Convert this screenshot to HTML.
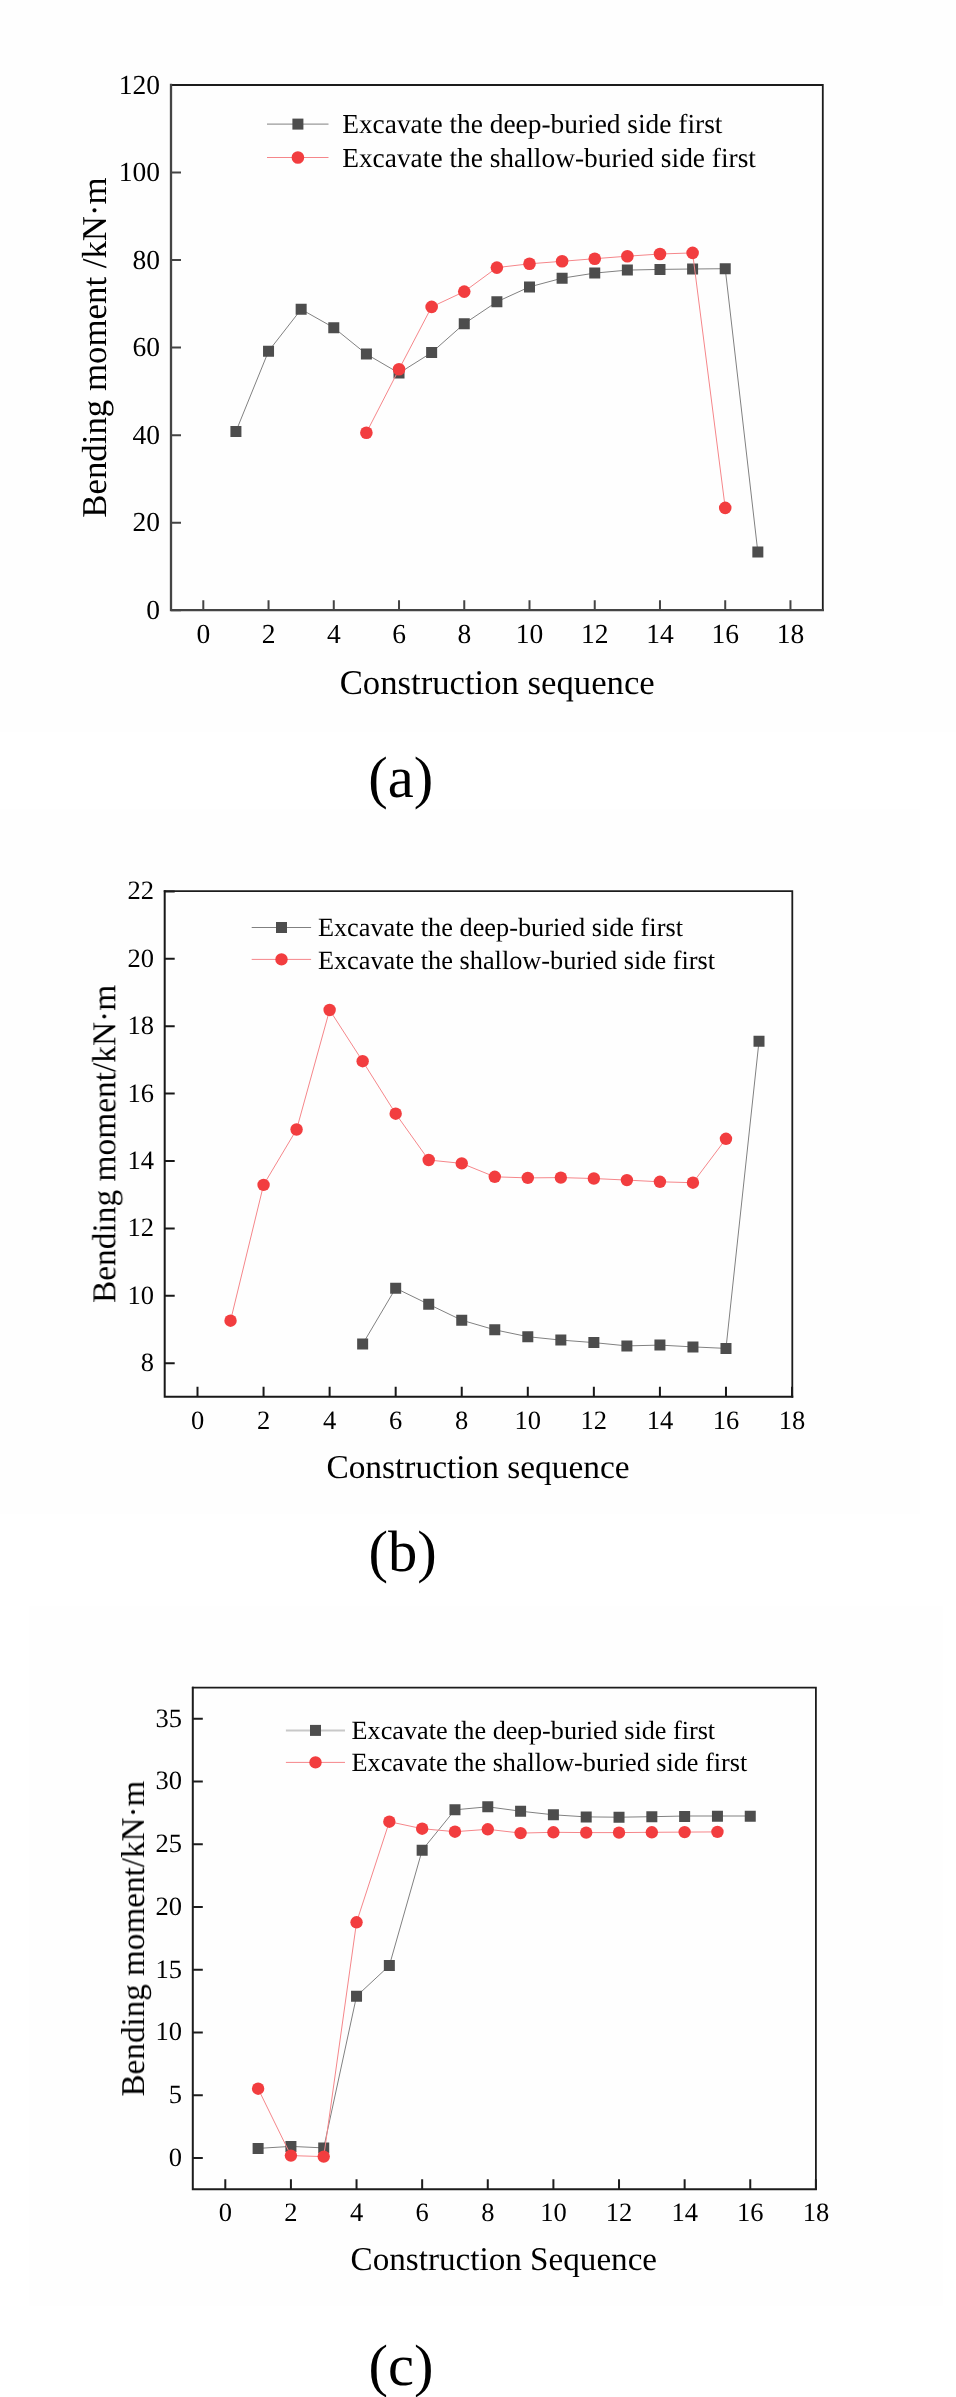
<!DOCTYPE html>
<html><head><meta charset="utf-8"><title>Bending moment charts</title>
<style>
html,body{margin:0;padding:0;background:#fff;}
body{width:956px;height:2397px;overflow:hidden;}
svg{display:block;font-family:"Liberation Serif", serif;will-change:transform;}
text{fill:#000;}
svg{text-rendering:geometricPrecision;-webkit-font-smoothing:antialiased;}
</style></head><body>
<svg width="956" height="2397" viewBox="0 0 956 2397">
<rect x="0" y="0" width="956" height="732" fill="#fefefe"/>
<rect x="0" y="809" width="920" height="705" fill="#fefefe"/>
<rect x="29" y="1606" width="914" height="700" fill="#fefefe"/>
<path d="M203.3 610.2V600.2M268.54 610.2V600.2M333.78 610.2V600.2M399.02 610.2V600.2M464.26 610.2V600.2M529.5 610.2V600.2M594.74 610.2V600.2M659.98 610.2V600.2M725.22 610.2V600.2M790.46 610.2V600.2M171 610.2H181M171 522.67H181M171 435.14H181M171 347.61H181M171 260.08H181M171 172.55H181M171 85.02H181" stroke="#444444" stroke-width="2" fill="none"/>
<path d="M171 85H822.8V610.2" fill="none" stroke="#1c1c1c" stroke-width="1.8" stroke-linecap="square"/>
<path d="M171 85V610.2H822.8" fill="none" stroke="#444444" stroke-width="2.3" stroke-linecap="square"/>
<text x="203.3" y="642.8" font-size="27.5" text-anchor="middle">0</text>
<text x="268.54" y="642.8" font-size="27.5" text-anchor="middle">2</text>
<text x="333.78" y="642.8" font-size="27.5" text-anchor="middle">4</text>
<text x="399.02" y="642.8" font-size="27.5" text-anchor="middle">6</text>
<text x="464.26" y="642.8" font-size="27.5" text-anchor="middle">8</text>
<text x="529.5" y="642.8" font-size="27.5" text-anchor="middle">10</text>
<text x="594.74" y="642.8" font-size="27.5" text-anchor="middle">12</text>
<text x="659.98" y="642.8" font-size="27.5" text-anchor="middle">14</text>
<text x="725.22" y="642.8" font-size="27.5" text-anchor="middle">16</text>
<text x="790.46" y="642.8" font-size="27.5" text-anchor="middle">18</text>
<text x="160.1" y="619" font-size="27.5" text-anchor="end">0</text>
<text x="160.1" y="531.47" font-size="27.5" text-anchor="end">20</text>
<text x="160.1" y="443.94" font-size="27.5" text-anchor="end">40</text>
<text x="160.1" y="356.41" font-size="27.5" text-anchor="end">60</text>
<text x="160.1" y="268.88" font-size="27.5" text-anchor="end">80</text>
<text x="160.1" y="181.35" font-size="27.5" text-anchor="end">100</text>
<text x="160.1" y="93.82" font-size="27.5" text-anchor="end">120</text>
<text x="339.7" y="694.2" font-size="34.7">Construction sequence</text>
<text transform="translate(106 517.8) rotate(-90)" font-size="34.85">Bending moment /kN·m</text>
<polyline points="235.92,431.5 268.54,351.2 301.16,309.3 333.78,327.7 366.4,354.1 399.02,373.1 431.64,352.6 464.26,323.7 496.88,301.8 529.5,286.9 562.12,278.2 594.74,273.1 627.36,270.1 659.98,269.4 692.6,269 725.22,268.7 757.84,552" fill="none" stroke="#808080" stroke-width="1"/>
<path d="M230.42 426h11v11h-11zM263.04 345.7h11v11h-11zM295.66 303.8h11v11h-11zM328.28 322.2h11v11h-11zM360.9 348.6h11v11h-11zM393.52 367.6h11v11h-11zM426.14 347.1h11v11h-11zM458.76 318.2h11v11h-11zM491.38 296.3h11v11h-11zM524 281.4h11v11h-11zM556.62 272.7h11v11h-11zM589.24 267.6h11v11h-11zM621.86 264.6h11v11h-11zM654.48 263.9h11v11h-11zM687.1 263.5h11v11h-11zM719.72 263.2h11v11h-11zM752.34 546.5h11v11h-11z" fill="#4d4d4d"/>
<polyline points="366.4,432.7 399.02,369.3 431.64,306.9 464.26,291.6 496.88,267.6 529.5,263.8 562.12,261.3 594.74,258.7 627.36,256.2 659.98,254 692.6,252.9 725.22,507.9" fill="none" stroke="#f5868a" stroke-width="1"/>
<g fill="#f23d3f"><circle cx="366.4" cy="432.7" r="6.3"/><circle cx="399.02" cy="369.3" r="6.3"/><circle cx="431.64" cy="306.9" r="6.3"/><circle cx="464.26" cy="291.6" r="6.3"/><circle cx="496.88" cy="267.6" r="6.3"/><circle cx="529.5" cy="263.8" r="6.3"/><circle cx="562.12" cy="261.3" r="6.3"/><circle cx="594.74" cy="258.7" r="6.3"/><circle cx="627.36" cy="256.2" r="6.3"/><circle cx="659.98" cy="254" r="6.3"/><circle cx="692.6" cy="252.9" r="6.3"/><circle cx="725.22" cy="507.9" r="6.3"/></g>
<path d="M267 124.1H328.5" stroke="#808080" stroke-width="1"/>
<rect x="292.4" y="118.6" width="11" height="11" fill="#4d4d4d"/>
<path d="M267 157.5H328.5" stroke="#f5868a" stroke-width="1"/>
<circle cx="297.9" cy="157.5" r="6.3" fill="#f23d3f"/>
<text x="342.2" y="133" font-size="27.4">Excavate the deep-buried side first</text>
<text x="342.2" y="167.3" font-size="27.4">Excavate the shallow-buried side first</text>
<text x="368.3" y="797.4" font-size="58.5">(a)</text>
<path d="M197.5 1396.8V1386.8M263.56 1396.8V1386.8M329.62 1396.8V1386.8M395.68 1396.8V1386.8M461.74 1396.8V1386.8M527.8 1396.8V1386.8M593.86 1396.8V1386.8M659.92 1396.8V1386.8M725.98 1396.8V1386.8M792.04 1396.8V1386.8M164.7 1363.2H174.7M164.7 1295.8H174.7M164.7 1228.4H174.7M164.7 1161H174.7M164.7 1093.6H174.7M164.7 1026.2H174.7M164.7 958.8H174.7M164.7 891.4H174.7" stroke="#181818" stroke-width="2" fill="none"/>
<path d="M164.7 891.2H792.3V1396.8" fill="none" stroke="#1c1c1c" stroke-width="1.8" stroke-linecap="square"/>
<path d="M164.7 891.2V1396.8H792.3" fill="none" stroke="#181818" stroke-width="2" stroke-linecap="square"/>
<text x="197.5" y="1428.7" font-size="26.5" text-anchor="middle">0</text>
<text x="263.56" y="1428.7" font-size="26.5" text-anchor="middle">2</text>
<text x="329.62" y="1428.7" font-size="26.5" text-anchor="middle">4</text>
<text x="395.68" y="1428.7" font-size="26.5" text-anchor="middle">6</text>
<text x="461.74" y="1428.7" font-size="26.5" text-anchor="middle">8</text>
<text x="527.8" y="1428.7" font-size="26.5" text-anchor="middle">10</text>
<text x="593.86" y="1428.7" font-size="26.5" text-anchor="middle">12</text>
<text x="659.92" y="1428.7" font-size="26.5" text-anchor="middle">14</text>
<text x="725.98" y="1428.7" font-size="26.5" text-anchor="middle">16</text>
<text x="792.04" y="1428.7" font-size="26.5" text-anchor="middle">18</text>
<text x="153.9" y="1371.1" font-size="26.5" text-anchor="end">8</text>
<text x="153.9" y="1303.7" font-size="26.5" text-anchor="end">10</text>
<text x="153.9" y="1236.3" font-size="26.5" text-anchor="end">12</text>
<text x="153.9" y="1168.9" font-size="26.5" text-anchor="end">14</text>
<text x="153.9" y="1101.5" font-size="26.5" text-anchor="end">16</text>
<text x="153.9" y="1034.1" font-size="26.5" text-anchor="end">18</text>
<text x="153.9" y="966.7" font-size="26.5" text-anchor="end">20</text>
<text x="153.9" y="899.3" font-size="26.5" text-anchor="end">22</text>
<text x="326.4" y="1478" font-size="33.4">Construction sequence</text>
<text transform="translate(115.3 1303) rotate(-90)" font-size="33.4">Bending moment/kN·m</text>
<polyline points="362.65,1344.1 395.68,1288.2 428.71,1304.3 461.74,1320.2 494.77,1329.8 527.8,1336.7 560.83,1340.1 593.86,1342.6 626.89,1345.9 659.92,1345.1 692.95,1346.9 725.98,1348.4 759.01,1041.3" fill="none" stroke="#808080" stroke-width="1"/>
<path d="M357.15 1338.6h11v11h-11zM390.18 1282.7h11v11h-11zM423.21 1298.8h11v11h-11zM456.24 1314.7h11v11h-11zM489.27 1324.3h11v11h-11zM522.3 1331.2h11v11h-11zM555.33 1334.6h11v11h-11zM588.36 1337.1h11v11h-11zM621.39 1340.4h11v11h-11zM654.42 1339.6h11v11h-11zM687.45 1341.4h11v11h-11zM720.48 1342.9h11v11h-11zM753.51 1035.8h11v11h-11z" fill="#4d4d4d"/>
<polyline points="230.53,1320.7 263.56,1184.9 296.59,1129.5 329.62,1010 362.65,1061.2 395.68,1113.7 428.71,1160 461.74,1163.4 494.77,1176.8 527.8,1177.9 560.83,1177.6 593.86,1178.5 626.89,1180.1 659.92,1181.8 692.95,1182.7 725.98,1138.8" fill="none" stroke="#f5868a" stroke-width="1"/>
<g fill="#f23d3f"><circle cx="230.53" cy="1320.7" r="6.2"/><circle cx="263.56" cy="1184.9" r="6.2"/><circle cx="296.59" cy="1129.5" r="6.2"/><circle cx="329.62" cy="1010" r="6.2"/><circle cx="362.65" cy="1061.2" r="6.2"/><circle cx="395.68" cy="1113.7" r="6.2"/><circle cx="428.71" cy="1160" r="6.2"/><circle cx="461.74" cy="1163.4" r="6.2"/><circle cx="494.77" cy="1176.8" r="6.2"/><circle cx="527.8" cy="1177.9" r="6.2"/><circle cx="560.83" cy="1177.6" r="6.2"/><circle cx="593.86" cy="1178.5" r="6.2"/><circle cx="626.89" cy="1180.1" r="6.2"/><circle cx="659.92" cy="1181.8" r="6.2"/><circle cx="692.95" cy="1182.7" r="6.2"/><circle cx="725.98" cy="1138.8" r="6.2"/></g>
<path d="M251.7 927.5H311.1" stroke="#808080" stroke-width="1"/>
<rect x="276" y="922" width="11" height="11" fill="#4d4d4d"/>
<path d="M251.7 959.4H311.1" stroke="#f5868a" stroke-width="1"/>
<circle cx="281.5" cy="959.4" r="6.2" fill="#f23d3f"/>
<text x="317.9" y="936.3" font-size="26.3">Excavate the deep-buried side first</text>
<text x="317.9" y="968.8" font-size="26.3">Excavate the shallow-buried side first</text>
<text x="368.6" y="1570.5" font-size="58.5">(b)</text>
<path d="M225.3 2189.2V2179.2M290.92 2189.2V2179.2M356.54 2189.2V2179.2M422.16 2189.2V2179.2M487.78 2189.2V2179.2M553.4 2189.2V2179.2M619.02 2189.2V2179.2M684.64 2189.2V2179.2M750.26 2189.2V2179.2M815.88 2189.2V2179.2M192.8 2158.1H202.8M192.8 2095.34H202.8M192.8 2032.59H202.8M192.8 1969.83H202.8M192.8 1907.08H202.8M192.8 1844.32H202.8M192.8 1781.57H202.8M192.8 1718.81H202.8" stroke="#1c1c1c" stroke-width="2" fill="none"/>
<path d="M192.8 1687.7H815.9V2189.2" fill="none" stroke="#1c1c1c" stroke-width="1.8" stroke-linecap="square"/>
<path d="M192.8 1687.7V2189.2H815.9" fill="none" stroke="#1c1c1c" stroke-width="2" stroke-linecap="square"/>
<text x="225.3" y="2221.2" font-size="26.5" text-anchor="middle">0</text>
<text x="290.92" y="2221.2" font-size="26.5" text-anchor="middle">2</text>
<text x="356.54" y="2221.2" font-size="26.5" text-anchor="middle">4</text>
<text x="422.16" y="2221.2" font-size="26.5" text-anchor="middle">6</text>
<text x="487.78" y="2221.2" font-size="26.5" text-anchor="middle">8</text>
<text x="553.4" y="2221.2" font-size="26.5" text-anchor="middle">10</text>
<text x="619.02" y="2221.2" font-size="26.5" text-anchor="middle">12</text>
<text x="684.64" y="2221.2" font-size="26.5" text-anchor="middle">14</text>
<text x="750.26" y="2221.2" font-size="26.5" text-anchor="middle">16</text>
<text x="815.88" y="2221.2" font-size="26.5" text-anchor="middle">18</text>
<text x="181.9" y="2166" font-size="26.5" text-anchor="end">0</text>
<text x="181.9" y="2103.24" font-size="26.5" text-anchor="end">5</text>
<text x="181.9" y="2040.49" font-size="26.5" text-anchor="end">10</text>
<text x="181.9" y="1977.73" font-size="26.5" text-anchor="end">15</text>
<text x="181.9" y="1914.98" font-size="26.5" text-anchor="end">20</text>
<text x="181.9" y="1852.22" font-size="26.5" text-anchor="end">25</text>
<text x="181.9" y="1789.47" font-size="26.5" text-anchor="end">30</text>
<text x="181.9" y="1726.71" font-size="26.5" text-anchor="end">35</text>
<text x="350.6" y="2270" font-size="33.15">Construction Sequence</text>
<text transform="translate(144 2096.5) rotate(-90)" font-size="33.15">Bending moment/kN·m</text>
<polyline points="258.11,2148.4 290.92,2146.4 323.73,2147.9 356.54,1996.2 389.35,1965.6 422.16,1850.2 454.97,1809.8 487.78,1806.8 520.59,1811.2 553.4,1814.8 586.21,1816.9 619.02,1817.2 651.83,1816.7 684.64,1816 717.45,1816 750.26,1816" fill="none" stroke="#808080" stroke-width="1"/>
<path d="M252.61 2142.9h11v11h-11zM285.42 2140.9h11v11h-11zM318.23 2142.4h11v11h-11zM351.04 1990.7h11v11h-11zM383.85 1960.1h11v11h-11zM416.66 1844.7h11v11h-11zM449.47 1804.3h11v11h-11zM482.28 1801.3h11v11h-11zM515.09 1805.7h11v11h-11zM547.9 1809.3h11v11h-11zM580.71 1811.4h11v11h-11zM613.52 1811.7h11v11h-11zM646.33 1811.2h11v11h-11zM679.14 1811h11v11h-11zM711.95 1810.7h11v11h-11zM744.76 1810.7h11v11h-11z" fill="#4d4d4d"/>
<polyline points="258.11,2088.7 290.92,2155.6 323.73,2156.6 356.54,1922.3 389.35,1821.7 422.16,1828.7 454.97,1831.7 487.78,1829.3 520.59,1833.1 553.4,1832.3 586.21,1832.6 619.02,1832.6 651.83,1832.3 684.64,1832.1 717.45,1831.9" fill="none" stroke="#f5868a" stroke-width="1"/>
<g fill="#f23d3f"><circle cx="258.11" cy="2088.7" r="6.2"/><circle cx="290.92" cy="2155.6" r="6.2"/><circle cx="323.73" cy="2156.6" r="6.2"/><circle cx="356.54" cy="1922.3" r="6.2"/><circle cx="389.35" cy="1821.7" r="6.2"/><circle cx="422.16" cy="1828.7" r="6.2"/><circle cx="454.97" cy="1831.7" r="6.2"/><circle cx="487.78" cy="1829.3" r="6.2"/><circle cx="520.59" cy="1833.1" r="6.2"/><circle cx="553.4" cy="1832.3" r="6.2"/><circle cx="586.21" cy="1832.6" r="6.2"/><circle cx="619.02" cy="1832.6" r="6.2"/><circle cx="651.83" cy="1832.3" r="6.2"/><circle cx="684.64" cy="1832.1" r="6.2"/><circle cx="717.45" cy="1831.9" r="6.2"/></g>
<path d="M285.9 1730.4H345" stroke="#c8c8c8" stroke-width="2"/>
<rect x="310" y="1724.9" width="11" height="11" fill="#4d4d4d"/>
<path d="M285.9 1762.4H345" stroke="#f5868a" stroke-width="1"/>
<circle cx="315.5" cy="1762.4" r="6.2" fill="#f23d3f"/>
<text x="351.6" y="1739.1" font-size="26.2">Excavate the deep-buried side first</text>
<text x="351.6" y="1771.3" font-size="26.2">Excavate the shallow-buried side first</text>
<text x="368.6" y="2385.1" font-size="58.5">(c)</text>
</svg>
</body></html>
